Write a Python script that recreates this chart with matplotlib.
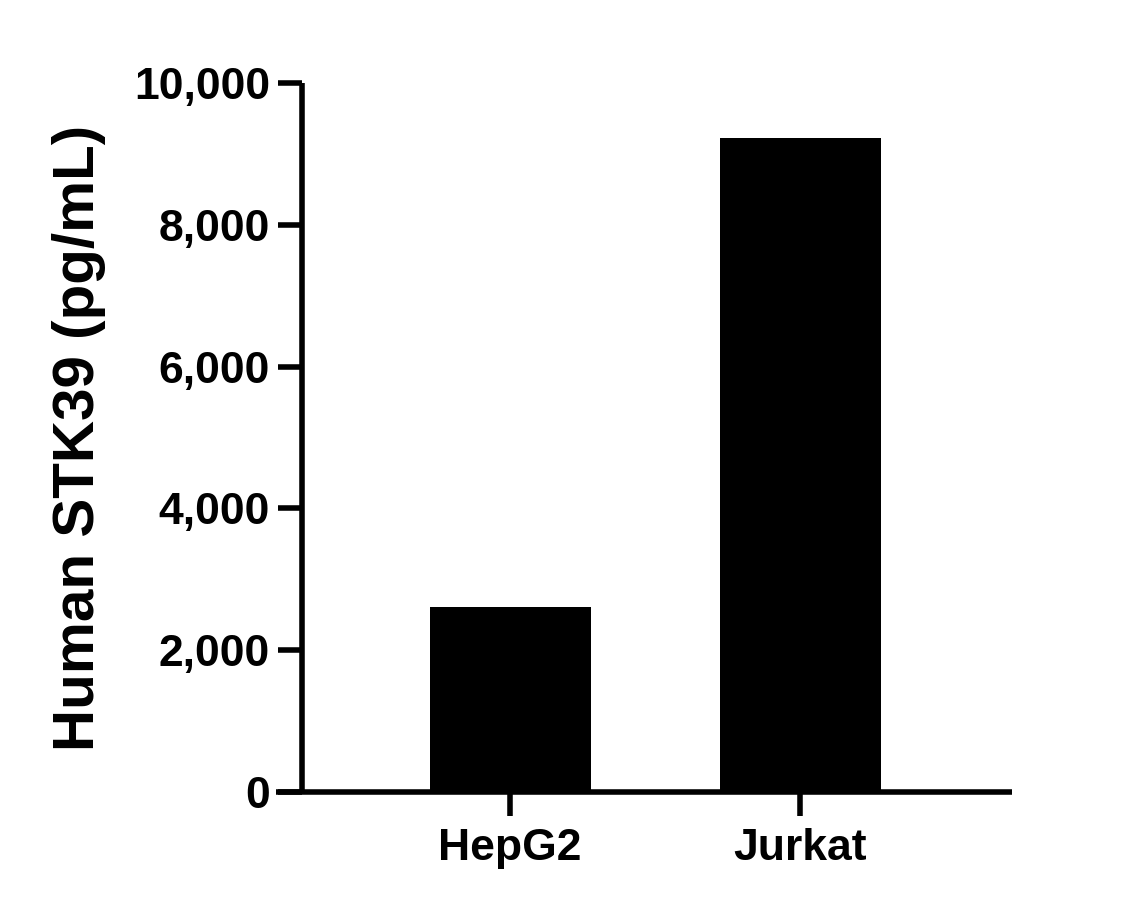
import matplotlib
matplotlib.use("Agg")
from matplotlib import pyplot as plt
from matplotlib.ticker import FuncFormatter

# data
cell_lines = ["HepG2", "Jurkat"]
stk39_pg_ml = [2615, 9230]
y_ticks = [0, 2000, 4000, 6000, 8000, 10000]

plt.rcParams['font.family'] = ['Liberation Sans', 'DejaVu Sans']
plt.rcParams['font.weight'] = 'bold'

fig = plt.figure(figsize=(11.43, 9.09), dpi=100)
ax = fig.add_axes([0.2415, 0.1287, 0.6439, 0.7800])

lw = 4.0
pos = list(range(len(cell_lines)))
ax.bar(pos, stk39_pg_ml, width=0.555, color='black', edgecolor='black', linewidth=0)

ax.set_xlim(-0.807, 1.731)
ax.set_ylim(0, 10000)

# y axis sits inside the x range so the bottom line pokes out to the left
ax.spines['left'].set_position(('data', -0.717))
ax.spines['top'].set_visible(False)
ax.spines['right'].set_visible(False)
for s in ('left', 'bottom'):
    ax.spines[s].set_linewidth(lw)
    ax.spines[s].set_capstyle('butt')

ax.set_xticks(pos)
ax.set_xticklabels(cell_lines)
ax.set_yticks(y_ticks)
ax.yaxis.set_major_formatter(FuncFormatter(lambda v, p: f"{int(v):,}"))
ax.tick_params(axis='both', width=lw, length=17, labelsize=32, color='black')
ax.tick_params(axis='y', pad=6)
ax.tick_params(axis='x', pad=9)
for lbl in ax.get_xticklabels() + ax.get_yticklabels():
    lbl.set_fontweight('bold')

ax.set_ylabel("Human STK39 (pg/mL)", fontsize=42, fontweight='bold', labelpad=20)

fig.savefig("out.png", dpi=100)
